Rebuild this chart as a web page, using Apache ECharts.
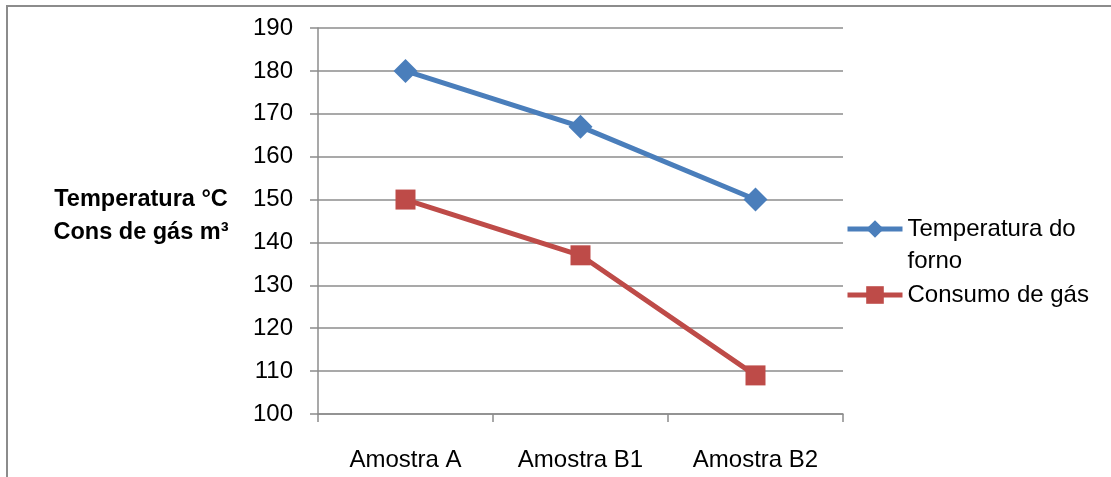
<!DOCTYPE html>
<html>
<head>
<meta charset="utf-8">
<script src="https://cdn.jsdelivr.net/npm/echarts@6/dist/echarts.min.js"></script>
<style>
html,body{margin:0;padding:0;background:#fff;}
#chart{width:1111px;height:477px;}
</style>
</head>
<body>
<div id="chart"></div>
<script>
const categories = ['Amostra A', 'Amostra B1', 'Amostra B2'];
const temperaturaForno = [180, 167, 150];
const consumoGas = [150, 137, 109];
const seriesNames = ['Temperatura do forno', 'Consumo de gás'];
const yTitle = 'Temperatura °C\nCons de gás m³';
const yMin = 100, yMax = 190, yStep = 10;

const FONT = 'Liberation Sans';
const chart = echarts.init(document.getElementById('chart'));
chart.setOption({
  animation: false,
  backgroundColor: '#fff',
  textStyle: { fontFamily: FONT },
  graphic: [
    { type: 'rect', shape: { x: 7, y: 6, width: 1200, height: 600 }, style: { fill: 'none', stroke: '#8c8c8c', lineWidth: 2 }, silent: true, z: -1 },
    { type: 'text', x: 141, y: 216, style: { text: yTitle, fontFamily: FONT, fontSize: 23.5, fontWeight: 'bold', fill: '#000', align: 'center', verticalAlign: 'middle', lineHeight: 33 } }
  ],
  grid: { left: 318, right: 268, top: 28, bottom: 63, containLabel: false },
  legend: [
    {
      data: [seriesNames[0]], left: 845, top: 181, padding: 0, orient: 'vertical',
      itemWidth: 55, itemHeight: 22,
      lineStyle: { width: 5 },
      formatter: () => '\nTemperatura do\nforno',
      textStyle: { fontFamily: FONT, fontSize: 24, color: '#000', lineHeight: 32 }
    },
    {
      data: [seriesNames[1]], left: 845, top: 279, padding: 0, orient: 'vertical',
      itemWidth: 55, itemHeight: 22,
      lineStyle: { width: 5 },
      textStyle: { fontFamily: FONT, fontSize: 24, color: '#000', lineHeight: 32 }
    }
  ],
  xAxis: {
    type: 'category', data: categories, boundaryGap: true,
    axisLine: { lineStyle: { color: '#8c8c8c', width: 1.5 } },
    axisTick: { show: true, length: 8, lineStyle: { color: '#8c8c8c', width: 1.5 } },
    axisLabel: { fontFamily: FONT, fontSize: 24, color: '#000', margin: 34 },
    splitLine: { show: false }
  },
  yAxis: {
    type: 'value', min: yMin, max: yMax, interval: yStep,
    axisLine: { show: true, lineStyle: { color: '#8c8c8c', width: 1.5 } },
    axisTick: { show: true, length: 8, lineStyle: { color: '#8c8c8c', width: 1.5 } },
    axisLabel: { fontFamily: FONT, fontSize: 24, color: '#000', margin: 25 },
    splitLine: { show: true, lineStyle: { color: '#8c8c8c', width: 1.5 } }
  },
  series: [
    {
      name: seriesNames[0], type: 'line', data: temperaturaForno,
      symbol: 'diamond', symbolSize: 24,
      lineStyle: { color: '#4A7EBB', width: 5 },
      itemStyle: { color: '#4A7EBB' }
    },
    {
      name: seriesNames[1], type: 'line', data: consumoGas,
      symbol: 'rect', symbolSize: 20,
      lineStyle: { color: '#BE4B48', width: 5 },
      itemStyle: { color: '#BE4B48' }
    }
  ]
});
</script>
</body>
</html>
